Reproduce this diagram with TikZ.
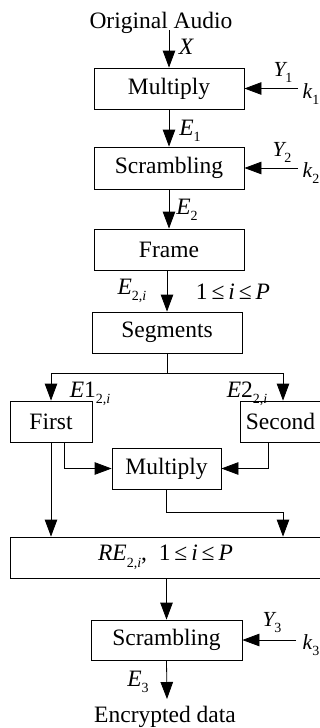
\documentclass[tikz,border=0pt]{standalone}
\usepackage{fontspec}
\setmainfont{Liberation Serif}
\usetikzlibrary{arrows.meta}
\newcommand{\sbs}[1]{\raisebox{-0.28em}{\fontsize{14}{14}\selectfont #1}}
\tikzset{
  box/.style={draw, line width=0.8pt, rectangle, inner sep=0pt, minimum height=41pt,
    font=\fontsize{23.5}{28}\selectfont},
  lbl/.style={inner sep=0pt, font=\fontsize{23.5}{28}\selectfont},
  klbl/.style={inner sep=0pt, font=\fontsize{21.5}{26}\selectfont},
  arr/.style={line width=0.8pt, -{Triangle[length=17pt,width=12.5pt]}},
  ln/.style={line width=0.8pt},
}
\begin{document}
\begin{tikzpicture}[x=1pt,y=-1pt]
\useasboundingbox (0,0) rectangle (320,728);
% nodes
\node[lbl, anchor=base] (orig) at (161,28) {Original Audio};
\node[box, minimum width=150pt] (mult1) at (169,88.5) {Multiply};
\node[box, minimum width=150pt, minimum height=42pt] (scr1) at (169,168) {Scrambling};
\node[box, minimum width=150pt] (frame) at (169,249.5) {Frame};
\node[box, minimum width=150pt] (seg) at (167,332.5) {Segments};
\node[box, minimum width=82pt] (first) at (51,421.5) {First};
\node[box, minimum width=80pt] (second) at (280.5,421.5) {Second};
\node[box, minimum width=109pt] (mult2) at (166.5,468.5) {Multiply};
\node[box, minimum width=311pt] (re) at (165.5,557.5) {{\itshape RE}\sbs{2,{\itshape i}}, \ 1\,≤\,{\itshape i}\,≤\,{\itshape P}};
\node[box, minimum width=151pt, minimum height=40pt] (scr2) at (166.5,640) {Scrambling};
\node[lbl, anchor=base] (enc) at (165,722) {Encrypted data};
% key inputs
\coordinate (k1c) at (298,88.5);
\coordinate (k2c) at (298,168);
\coordinate (k3c) at (296,640);
\coordinate (sp) at (167,373);
\coordinate (mj) at (283,512);
\coordinate (endc) at (167,699);
% connectors
\draw[ln] (orig.south -| 170,0) ++(0,-3) coordinate (o1);
\draw[arr] (mult1.north |- o1) -- (mult1.north);
\draw[arr] (k1c) -- (mult1.east);
\draw[arr] (mult1.south) -- (scr1.north);
\draw[arr] (k2c) -- (scr1.east);
\draw[arr] (scr1.south) -- (frame.north);
\draw[arr] (seg.north |- frame.south) -- (seg.north);
\draw[ln] (seg.south) -- (sp);
\draw[arr] (sp) -| (first.north);
\draw[arr] (sp) -| ([xshift=2.5pt]second.north);
\draw[arr] ([xshift=13pt]first.south) |- (mult2.west);
\draw[arr] ([xshift=-12.5pt]second.south) |- (mult2.east);
\draw[arr] (first.south) -- (first.south |- re.north);
\draw[ln] (mult2.south) |- (mj);
\draw[arr] (mj) -- (mj |- re.north);
\draw[arr] (re.south -| scr2.north) -- (scr2.north);
\draw[arr] (k3c) -- (scr2.east);
\draw[arr] (scr2.south) -- (endc);
% labels
\node[lbl] (lx) at (186,47) {\itshape X};
\node[klbl] (ly1) at (283,72) {{\itshape Y}\sbs{1}};
\node[klbl] (lk1) at (311,94) {{\itshape k}\sbs{1}};
\node[lbl] (le1) at (190,131) {{\itshape E}\sbs{1}};
\node[klbl] (ly2) at (282,152) {{\itshape Y}\sbs{2}};
\node[klbl] (lk2) at (311,173) {{\itshape k}\sbs{2}};
\node[lbl] (le2) at (187,210) {{\itshape E}\sbs{2}};
\node[lbl] (le2i) at (132,291) {{\itshape E}\sbs{2,{\itshape i}}};
\node[lbl] (lrange) at (233,292) {1\,≤\,{\itshape i}\,≤\,{\itshape P}};
\node[lbl] (le12) at (90,394) {{\itshape E}1\sbs{2,{\itshape i}}};
\node[lbl] (le22) at (247,394) {{\itshape E}2\sbs{2,{\itshape i}}};
\node[klbl] (ly3) at (272,623) {{\itshape Y}\sbs{3}};
\node[klbl] (lk3) at (311,645) {{\itshape k}\sbs{3}};
\node[lbl] (le3) at (138,682) {{\itshape E}\sbs{3}};
\end{tikzpicture}
\end{document}
